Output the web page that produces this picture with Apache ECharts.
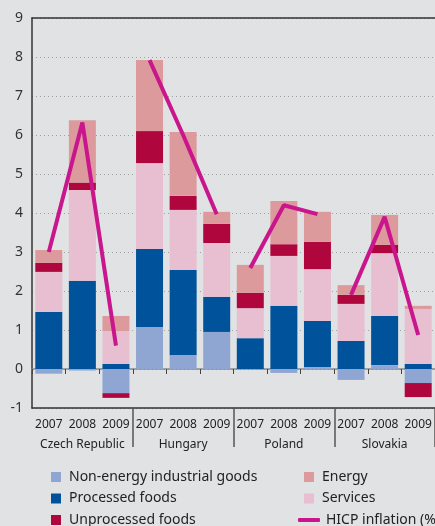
<!DOCTYPE html>
<html><head><meta charset="utf-8">
<script src="https://cdn.jsdelivr.net/npm/echarts@6/dist/echarts.min.js"></script>
<style>html,body{margin:0;padding:0;background:#e1e2e4;}#c{width:435px;height:526px;}</style>
</head><body><div id="c"></div>
<script>
const years = ['2007','2008','2009','2007','2008','2009','2007','2008','2009','2007','2008','2009'];
const countries = ['Czech Republic','Hungary','Poland','Slovakia'];
const yTicks = [-1,0,1,2,3,4,5,6,7,8,9];
const nonEnergy   = [-0.12,-0.04,-0.62, 1.08,0.36,0.95, 0.00,-0.10,0.05, -0.28,0.10,-0.36];
const processed   = [1.46,2.26,0.13, 2.00,2.18,0.90, 0.79,1.62,1.18, 0.72,1.26,0.13];
const services    = [1.03,2.33,0.84, 2.20,1.54,1.38, 0.77,1.28,1.33, 0.95,1.61,1.41];
const unprocessed = [0.23,0.19,-0.12, 0.82,0.36,0.49, 0.39,0.30,0.70, 0.23,0.21,-0.36];
const energy      = [0.33,1.60,0.39, 1.82,1.64,0.31, 0.72,1.11,0.77, 0.25,0.77,0.08];
const hicp        = [3.00,6.32,0.60, 7.92,6.00,3.97, 2.59,4.20,3.97, 1.90,3.90,0.87];

const FONT = 'Noto Sans';
const C = {ne:'#8fa5d2', pf:'#00539b', un:'#b0063e', en:'#dc9a9c', sv:'#e8bfd1', hi:'#c9168c'};
const gridRect = {left:32, top:18, width:412, height:390};

function bar(name, data, color){
  return {type:'bar', name, data, stack:'s', barWidth:27, itemStyle:{color}, xAxisIndex:0, yAxisIndex:0};
}
const lineSeries = countries.map((c, ci) => ({
  type:'line', name:'HICP inflation (%)', xAxisIndex:0, yAxisIndex:0, z:5,
  data: hicp.map((v, i) => Math.floor(i/3) === ci ? v : null),
  symbol:'none', lineStyle:{color:C.hi, width:4}, itemStyle:{color:C.hi}
}));

const legendText = {fontSize:14, color:'#222', fontFamily:FONT, padding:[0,0,0,3]};
const chart = echarts.init(document.getElementById('c'), null, {renderer:'canvas'});
chart.setOption({
  backgroundColor:'#e1e2e4',
  animation:false,
  textStyle:{fontFamily:FONT},
  grid:[Object.assign({}, gridRect), Object.assign({}, gridRect), Object.assign({}, gridRect)],
  xAxis:[
    {type:'category', gridIndex:0, data:years, position:'bottom',
     axisLine:{onZero:true, lineStyle:{color:'#8a8a8a', width:1.5}},
     axisTick:{show:true, interval:0, length:5, lineStyle:{color:'#444', width:1}},
     axisLabel:{show:false}, splitLine:{show:false}},
    {type:'category', gridIndex:0, data:years, position:'top',
     axisLine:{onZero:false, lineStyle:{color:'#333', width:1.5}},
     axisTick:{show:false}, axisLabel:{show:false}},
    {type:'category', gridIndex:1, data:years, position:'bottom',
     axisLine:{onZero:false, lineStyle:{color:'#333', width:1.5}},
     axisTick:{show:false},
     axisLabel:{show:true, interval:0, margin:11, fontSize:12, color:'#222', fontFamily:FONT}},
    {type:'category', gridIndex:2, data:countries, position:'bottom',
     axisLine:{show:false, onZero:false},
     axisTick:{show:true, length:39, interval:(i)=> i>0, lineStyle:{color:'#555', width:1.5}},
     axisLabel:{show:true, interval:0, margin:31, fontSize:12, color:'#222', fontFamily:FONT}}
  ],
  yAxis:[
    {type:'value', gridIndex:0, min:-1, max:9, interval:1,
     axisLine:{show:true, lineStyle:{color:'#333', width:1.5}},
     axisTick:{show:false},
     axisLabel:{fontSize:14, color:'#333', margin:9, fontFamily:FONT,
       formatter:(v)=> yTicks.includes(v) ? String(v) : ''},
     splitLine:{show:true, lineStyle:{color:'#a0a0a0', type:[1,3], width:1}}},
    {type:'value', gridIndex:1, min:-1, max:9, show:false},
    {type:'value', gridIndex:2, min:-1, max:9, show:false}
  ],
  legend:[
    {orient:'vertical', left:51, top:470, height:90, padding:0, itemWidth:10, itemHeight:10, itemGap:7.5, icon:'rect',
     data:['Non-energy industrial goods','Processed foods','Unprocessed foods'],
     textStyle:legendText},
    {orient:'vertical', left:304, top:470, height:90, padding:0, itemWidth:10, itemHeight:10, itemGap:7.5, icon:'rect',
     data:['Energy','Services'],
     textStyle:legendText},
    {orient:'vertical', left:298, top:513, height:30, padding:0, itemWidth:22, itemHeight:4, icon:'roundRect',
     data:['HICP inflation (%)'],
     textStyle:{fontSize:14, color:'#222', fontFamily:FONT, padding:[0,0,0,1]}}
  ],
  series:[
    bar('Non-energy industrial goods', nonEnergy, C.ne),
    bar('Processed foods', processed, C.pf),
    bar('Services', services, C.sv),
    bar('Unprocessed foods', unprocessed, C.un),
    bar('Energy', energy, C.en),
    ...lineSeries
  ]
});
</script></body></html>
